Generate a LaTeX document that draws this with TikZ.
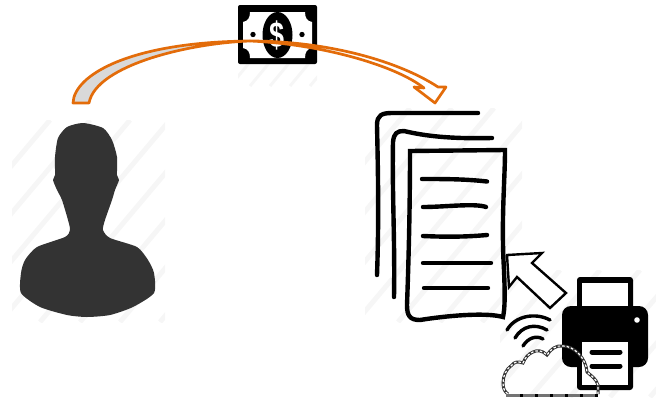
\documentclass[tikz,border=0pt]{standalone}
\usepackage{fontspec}
\setmainfont{Liberation Sans}
\definecolor{hatch}{HTML}{F6F6F6}
\definecolor{arroworange}{HTML}{E36C0A}
\definecolor{persongray}{HTML}{333333}
\tikzset{
  hatchline/.style={hatch,line width=5pt},
  inkline/.style={black,line width=4.4pt,line cap=round,line join=round},
  orangeedge/.style={draw=arroworange,line width=2.7pt,line join=round},
  wifi/.style={black,line width=3.4pt,line cap=round},
  printerpart/.style={fill=black,rounded corners=3pt}
}
\begin{document}
\begin{tikzpicture}[x=1pt,y=-1pt]
\useasboundingbox (0,0) rectangle (656,397);
% hatching behind the icons
\begin{scope}
\clip (12,120) rectangle (165,322);
\foreach \o in {40,80,...,320}{\draw[hatchline] (\o-160,322) -- (\o+10,120);}
\end{scope}
\begin{scope}
\clip (365,108) rectangle (522,322);
\foreach \o in {400,442,...,720}{\draw[hatchline] (\o-170,322) -- (\o+10,108);}
\end{scope}
\begin{scope}
\clip (238,62) rectangle (317,86);
\foreach \o in {250,270,...,330}{\draw[hatchline,line width=3pt] (\o-20,86) -- (\o,62);}
\end{scope}
\begin{scope}
\clip (500,270) rectangle (656,397);
\foreach \o in {520,560,...,800}{\draw[hatchline] (\o-110,397) -- (\o,270);}
\end{scope}
% person
\fill[persongray] plot[smooth cycle,tension=0.4] coordinates {
 (83,123) (67,127) (58,138) (55,157) (55,175) (53,180) (57,190) (62,200)
 (68,220) (70,230) (65,237) (37,247) (25,260) (21,273) (21,293) (40,307)
 (67,315) (87,317) (110,315) (133,307) (154,293) (154,273) (148,260)
 (137,247) (110,238) (103,230) (105,220) (112,200) (115,190) (119,180)
 (117,175) (117,157) (112,140) (103,128)};
% banknote
\fill[black,rounded corners=2pt] (238,5) rectangle (317,64);
\fill[white] (250,12) -- (305,12) .. controls (305,18) and (307,21) .. (312,22)
  -- (312,48) .. controls (307,49) and (305,52) .. (305,58) -- (250,58)
  .. controls (250,52) and (248,49) .. (243,48) -- (243,22)
  .. controls (248,21) and (250,18) .. (250,12) -- cycle;
\fill[black] (277.5,35) ellipse [x radius=15,y radius=23];
\fill[black] (253,34.5) circle (2.7);
\fill[black] (302,34.5) circle (2.7);
\node[white,font=\bfseries\fontsize{36}{36}\selectfont,inner sep=0pt,xscale=.75] (dollar) at (277,35) {\$};
% curved arrow
\path[fill=black!15,orangeedge] (73,103)
  .. controls (74,75) and (130,42) .. (250,41)
  .. controls (190,43) and (96,65) .. (89,103) -- cycle;
\path[fill=white,orangeedge] (250,41)
  .. controls (330,41) and (400,62) .. (438,87)
  -- (446,87) -- (435,103) -- (414,87) -- (424,88)
  .. controls (395,65) and (320,44) .. (250,41) -- cycle;
% pages
\draw[inkline] (377,275) .. controls (379,220) and (378,170) .. (377,125)
  .. controls (377,115) and (382,113) .. (392,113) -- (478,113);
\draw[inkline] (394,297) .. controls (395,240) and (392,190) .. (393,142)
  .. controls (394,133) and (397,131) .. (404,131)
  .. controls (425,136) and (450,139) .. (492,138);
\draw[inkline,line join=miter] (410,151) -- (505,150)
  .. controls (505,180) and (501,220) .. (504,270)
  .. controls (505,295) and (505,308) .. (503,317)
  .. controls (485,312) and (445,316) .. (420,320)
  .. controls (410,320) and (407,316) .. (407,305)
  .. controls (409,250) and (410,200) .. (410,151) -- cycle;
\draw[inkline] (422,179) .. controls (445,179) and (465,179) .. (487,181.5);
\draw[inkline] (423,207) .. controls (445,207) and (475,203) .. (486,207);
\draw[inkline] (423,236) .. controls (445,237) and (465,237) .. (487,235);
\draw[inkline] (423,263) -- (491,263);
\draw[inkline] (424,288) -- (488,288);
% printer
\fill[printerpart] (577,277) rectangle (633,310);
\fill[white] (582,283) rectangle (628,306);
\fill[printerpart,rounded corners=9pt] (562,306) rectangle (648,367);
\fill[white] (637,320) circle (2.8);
\fill[printerpart] (577,338) rectangle (633,390);
\fill[white] (582,342) rectangle (628,385);
\draw[black,line width=5pt,line cap=round] (592,352) -- (620,352);
\draw[black,line width=5pt,line cap=round] (592,366) -- (620,366);
% white arrow
\draw[black,fill=white,line width=2.4pt,line join=miter] (507,255) -- (542,253) -- (532,263)
  -- (566,293) -- (550,308) -- (517,277) -- (509,287) -- cycle;
% wifi
\draw[wifi] (507,330) .. controls (515,316) and (535,312) .. (550,320);
\draw[wifi] (515,338) .. controls (522,326) and (535,323) .. (547,330);
\draw[wifi] (523,346) .. controls (528,338) and (536,335) .. (543,339);
% cloud
\def\cloudpath{(598,394) -- (598,385) .. controls (596,378) and (590,375) .. (587,372)
  .. controls (586,358) and (574,346) .. (563,346)
  .. controls (556,345) and (551,349) .. (547,355)
  .. controls (542,350) and (537,350) .. (533,352)
  .. controls (528,354) and (525,358) .. (523,363)
  .. controls (518,361) and (514,362) .. (512,365)
  .. controls (506,369) and (503,376) .. (503,383)
  .. controls (503,389) and (505,392) .. (508,394)}
\draw[black!80,line width=3pt] \cloudpath;
\draw[white,line width=1.2pt,dash pattern=on 2.5pt off 2pt] \cloudpath;
\draw[black!55,line width=3pt] (506,395) -- (598,395);
\draw[black,line width=3pt,dash pattern=on 3pt off 12pt] (520,395) -- (598,395);
\end{tikzpicture}
\end{document}
